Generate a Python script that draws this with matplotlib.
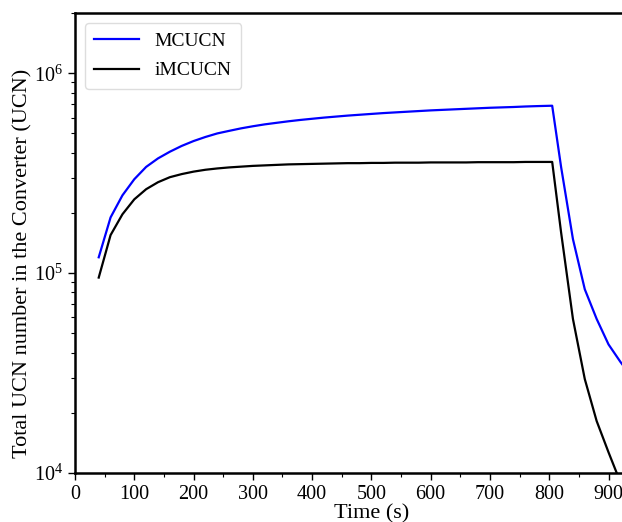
import numpy as np
import matplotlib.pyplot as plt

# UCN number in the converter vs time (filling then emptying)
time = [40, 60, 80, 100, 120, 140, 160, 180, 200, 220, 240, 260, 280, 300,
        320, 340, 360, 380, 400, 420, 440, 460, 480, 500, 520, 540, 560, 580,
        600, 620, 640, 660, 680, 700, 720, 740, 760, 780, 805,
        820, 840, 860, 880, 900, 920, 940]

mcucn = [1.2e5, 1.9e5, 2.45e5, 2.95e5, 3.4e5, 3.75e5, 4.05e5, 4.33e5, 4.58e5,
         4.8e5, 5.0e5, 5.15e5, 5.3e5, 5.43e5, 5.55e5, 5.65e5, 5.75e5, 5.84e5,
         5.92e5, 6.0e5, 6.07e5, 6.14e5, 6.2e5, 6.26e5, 6.32e5, 6.37e5, 6.42e5,
         6.47e5, 6.52e5, 6.56e5, 6.6e5, 6.64e5, 6.68e5, 6.72e5, 6.75e5, 6.78e5,
         6.82e5, 6.85e5, 6.88e5,
         3.4e5, 1.48e5, 8.3e4, 5.9e4, 4.4e4, 3.6e4, 3.0e4]

imcucn = [9.5e4, 1.55e5, 1.97e5, 2.34e5, 2.63e5, 2.85e5, 3.02e5, 3.13e5, 3.22e5,
          3.29e5, 3.34e5, 3.38e5, 3.41e5, 3.44e5, 3.46e5, 3.48e5, 3.5e5, 3.51e5,
          3.52e5, 3.53e5, 3.54e5, 3.55e5, 3.55e5, 3.56e5, 3.56e5, 3.57e5, 3.57e5,
          3.57e5, 3.58e5, 3.58e5, 3.58e5, 3.58e5, 3.59e5, 3.59e5, 3.59e5, 3.59e5,
          3.6e5, 3.6e5, 3.6e5,
          1.6e5, 5.9e4, 2.95e4, 1.82e4, 1.27e4, 9.0e3, 6.5e3]

plt.rcParams['font.family'] = 'Liberation Serif'
plt.rcParams['mathtext.fontset'] = 'custom'
plt.rcParams['mathtext.rm'] = 'Liberation Serif'
plt.rcParams['mathtext.it'] = 'Liberation Serif:italic'

fig = plt.figure(figsize=(6.22, 5.22), dpi=100)
# axes run past the right edge of the figure, as in the original crop
ax = fig.add_axes([0.1206, 0.0939, 0.953, 0.881])

ax.plot(time, mcucn, color='blue', linewidth=1.6, label='MCUCN')
ax.plot(time, imcucn, color='black', linewidth=1.6, label='iMCUCN')

ax.set_yscale('log')
ax.set_xlim(0, 1000)
ax.set_ylim(1e4, 2e6)
ax.set_xticks(np.arange(0, 1001, 100))
ax.set_xticks(np.arange(0, 1001, 50), minor=True)

for s in ax.spines.values():
    s.set_linewidth(1.8)
ax.tick_params(which='both', direction='out', labelsize=14.5, top=False, right=False)
ax.tick_params(which='major', length=5, width=1)
ax.tick_params(which='minor', length=3, width=0.8)

ax.set_xlabel('Time (s)', fontsize=16, labelpad=0)
ax.set_ylabel('Total UCN number in the Converter (UCN)', fontsize=16)
ax.yaxis.set_label_coords((32 - 75) / 593, 0.4565)

ax.legend(loc='upper left', fontsize=14, handlelength=2.3, borderpad=0.5,
          labelspacing=0.6, framealpha=1, edgecolor='#dddddd')

fig.savefig('out.png', dpi=100)
